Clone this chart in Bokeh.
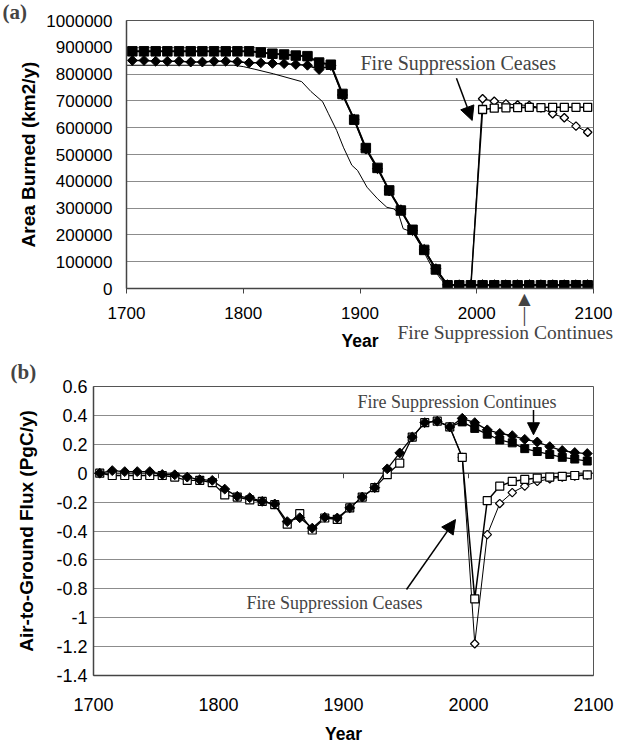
import math
from bokeh.plotting import figure
from bokeh.models import Range1d, FixedTicker, Label, Arrow, NormalHead
from bokeh.embed import file_html
from bokeh.resources import INLINE

# ---------------- data ----------------
years = [1705, 1715, 1725, 1735, 1745, 1755, 1765, 1775, 1785, 1795,
         1805, 1815, 1825, 1835, 1845, 1855, 1865, 1875, 1885, 1895,
         1905, 1915, 1925, 1935, 1945, 1955, 1965, 1975, 1985, 1995,
         2005, 2015, 2025, 2035, 2045, 2055, 2065, 2075, 2085, 2095]

x_ticks = [1700, 1800, 1900, 2000, 2100]

# panel (a): area burned (km2/y)
a_y_ticks = [0, 100000, 200000, 300000, 400000, 500000, 600000, 700000, 800000, 900000, 1000000]
a_y_labels = ["0", "100000", "200000", "300000", "400000", "500000", "600000", "700000", "800000", "900000", "1000000"]

a_sq_cont = [885000, 885000, 885000, 885000, 885000, 885000, 885000, 885000, 885000, 885000,
             885000, 881000, 876000, 873000, 869000, 867000, 843000, 835000, 726000, 630000,
             524000, 450000, 366000, 291000, 219000, 144000, 71000, 12000, 12000, 12000,
             12000, 12000, 12000, 12000, 12000, 12000, 12000, 12000, 12000, 12000]
a_dia_cont = [851000, 851000, 848000, 848000, 848000, 845000, 845000, 848000, 848000, 846000,
              842000, 842000, 840000, 839000, 836000, 833000, 817000, 832000, 722000, 632000,
              520000, 447000, 364000, 294000, 216000, 146000, 74000, 14000, 14000, 14000,
              14000, 14000, 14000, 14000, 14000, 14000, 14000, 14000, 14000, 14000]

a_ceases_years = [1995, 2005, 2015, 2025, 2035, 2045, 2055, 2065, 2075, 2085, 2095]
a_sq_ceases = [12000, 668000, 673000, 674000, 675000, 676000, 675000, 676000, 676000, 676000, 676000]
a_dia_ceases = [12000, 708000, 699000, 689000, 685000, 683000, 674000, 652000, 637000, 606000, 583000]

a_obs_years = [1700, 1792, 1800, 1810, 1826, 1850, 1858, 1868, 1873, 1880, 1886, 1893, 1898,
               1906, 1915, 1923, 1929, 1933, 1937, 1945, 1952, 1960, 1969, 1974, 2000]
a_obs = [833000, 833000, 828000, 818000, 801000, 772000, 735000, 697000, 652000, 590000, 525000,
         460000, 440000, 378000, 335000, 303000, 297000, 279000, 223000, 210000, 160000, 92000,
         36000, 12000, 12000]

# panel (b): air-to-ground flux (PgC/y)
b_y_ticks = [0.6, 0.4, 0.2, 0.0, -0.2, -0.4, -0.6, -0.8, -1.0, -1.2, -1.4]
b_y_labels = ["0.6", "0.4", "0.2", "0", "-0.2", "-0.4", "-0.6", "-0.8", "-1", "-1.2", "-1.4"]

b_hist_years = years[:29]
b_dia_hist = [0.0, 0.018, 0.011, 0.011, 0.011, -0.009, -0.011, -0.027, -0.045, -0.05,
              -0.11, -0.16, -0.17, -0.195, -0.213, -0.335, -0.308, -0.38, -0.305, -0.31,
              -0.24, -0.165, -0.10, 0.03, 0.14, 0.25, 0.35, 0.36, 0.32]
b_sq_hist = [0.0, -0.016, -0.016, -0.016, -0.016, -0.016, -0.027, -0.049, -0.049, -0.065,
             -0.15, -0.165, -0.185, -0.195, -0.218, -0.353, -0.28, -0.393, -0.31, -0.32,
             -0.24, -0.165, -0.10, -0.01, 0.07, 0.25, 0.35, 0.36, 0.32]

b_fut_years = years[28:]
b_dia_cont = [0.32, 0.38, 0.35, 0.30, 0.275, 0.26, 0.234, 0.216, 0.184, 0.157, 0.143, 0.136]
b_sq_cont = [0.32, 0.355, 0.31, 0.27, 0.23, 0.21, 0.17, 0.15, 0.13, 0.11, 0.098, 0.084]
b_sq_ceases = [0.32, 0.11, -0.87, -0.19, -0.09, -0.057, -0.043, -0.034, -0.027, -0.022, -0.016, -0.011]
b_dia_ceases = [0.32, 0.11, -1.18, -0.425, -0.21, -0.134, -0.089, -0.057, -0.039, -0.027, -0.02, -0.013]

# ---------------- style ----------------
SANS = "Liberation Sans"
SERIF = "Liberation Serif"
GRID = "#8c8c8c"
AXIS = "#444444"
DIAM = math.pi / 4


def style(p, label_size, y_title_standoff, y_label_standoff, x_label_standoff, x_tick_out, x_title_standoff):
    p.xgrid.grid_line_color = None
    p.ygrid.grid_line_color = GRID
    p.ygrid.grid_line_width = 1
    p.outline_line_color = "#555555"
    p.outline_line_width = 1
    p.background_fill_color = "white"
    p.border_fill_color = "white"
    for ax in (p.xaxis, p.yaxis):
        ax.axis_line_color = AXIS
        ax.axis_line_width = 1.5
        ax.major_label_text_font = SANS
        ax.major_label_text_font_size = label_size
        ax.major_label_text_color = "black"
        ax.axis_label_text_font = SANS
        ax.axis_label_text_font_style = "bold"
        ax.axis_label_text_color = "black"
        ax.minor_tick_line_color = None
        ax.major_tick_in = 0
    p.xaxis.axis_label_text_font_size = "17.5px"
    p.yaxis.axis_label_text_font_size = "19px"
    p.yaxis.major_tick_out = 0
    p.yaxis.major_label_standoff = y_label_standoff
    p.yaxis.axis_label_standoff = y_title_standoff
    p.xaxis.major_tick_out = x_tick_out
    p.xaxis.major_tick_line_color = AXIS
    p.xaxis.major_label_standoff = x_label_standoff
    p.xaxis.axis_label_standoff = x_title_standoff


HEAD = dict(fill_color="black", line_color="black")

# ---------------- panel (a) ----------------
# a tall top border holds the out-of-frame annotations; the canvas is pulled up by the same amount
A_TOP = 130
pa = figure(output_backend="svg", toolbar_location=None, width=617, height=A_TOP + 268 + 68,
            min_border_left=126, min_border_right=24, min_border_top=A_TOP, min_border_bottom=68,
            x_range=Range1d(1700, 2100), y_range=Range1d(0, 1000000),
            styles={"margin-top": "-%dpx" % (A_TOP - 20)})
pa.xaxis.ticker = FixedTicker(ticks=x_ticks)
pa.yaxis.ticker = FixedTicker(ticks=a_y_ticks)
pa.yaxis.major_label_overrides = {t: l for t, l in zip(a_y_ticks, a_y_labels)}
pa.xaxis.axis_label = "Year"
pa.yaxis.axis_label = "Area Burned (km2/y)"
style(pa, "17px", 4, 14, 13, 5, 9)

pa.line(a_obs_years, a_obs, line_color="black", line_width=1)
pa.line(years, a_sq_cont, line_color="black", line_width=2)
pa.line(years, a_dia_cont, line_color="black", line_width=1.5)
pa.line(a_ceases_years, a_sq_ceases, line_color="black", line_width=1.5)
pa.line(a_ceases_years, a_dia_ceases, line_color="black", line_width=1)
pa.scatter(years, a_sq_cont, marker="square", size=9.5, fill_color="black", line_color="black")
pa.scatter(years, a_dia_cont, marker="square", angle=DIAM, size=7, fill_color="black", line_color="black")
pa.scatter(a_ceases_years[1:], a_dia_ceases[1:], marker="square", angle=DIAM, size=6,
           fill_color="white", line_color="black", line_width=1.3)
pa.scatter(a_ceases_years[1:], a_sq_ceases[1:], marker="square", size=8,
           fill_color="white", line_color="black", line_width=1.3)

pa.add_layout(Label(x=1700, y=1000000, x_offset=-124, y_offset=21, text="(a)", text_font=SERIF,
                    text_font_style="bold", text_font_size="21px", text_baseline="top",
                    text_align="left"), "above")
pa.add_layout(Label(x=1932.1, y=0, y_offset=-44, text="Fire Suppression Continues", text_font=SERIF,
                    text_font_size="19.5px", text_baseline="middle", text_align="left"), "above")
# upward arrow below the axis, drawn as text (head + stem)
pa.add_layout(Label(x=2040.9, y=0, y_offset=-10, text="\u25b2", text_font="DejaVu Sans",
                    text_font_size="16px", text_baseline="middle", text_align="center"), "above")
pa.add_layout(Label(x=2040.9, y=0, y_offset=-25, text="|", text_font=SERIF,
                    text_font_size="22px", text_baseline="middle", text_align="center"), "above")

pa.add_layout(Label(x=1900.4, y=843000, text="Fire Suppression Ceases", text_font=SERIF,
                    text_font_size="20px", text_baseline="middle", text_align="left"))
pa.add_layout(Arrow(x_start=1982.6, y_start=784700, x_end=1996.1, y_end=627000,
                    line_color="black", line_width=1.5, end=NormalHead(size=14, **HEAD)))

# ---------------- panel (b) ----------------
pb = figure(output_backend="svg", toolbar_location=None, width=617, height=390,
            min_border_left=93, min_border_right=24, min_border_top=30, min_border_bottom=67,
            x_range=Range1d(1700, 2100), y_range=Range1d(-1.4, 0.6))
pb.xaxis.ticker = FixedTicker(ticks=x_ticks)
pb.yaxis.ticker = FixedTicker(ticks=b_y_ticks)
pb.yaxis.major_label_overrides = {t: l for t, l in zip(b_y_ticks, b_y_labels)}
pb.xaxis.axis_label = "Year"
pb.yaxis.axis_label = "Air-to-Ground Flux (PgC/y)"
style(pb, "18px", 16, 6, 22, 0, 10)

# zero line with small ticks (category axis crossing at 0)
pb.line([1700, 2100], [0, 0], line_color=AXIS, line_width=1.5)
pb.segment(x0=x_ticks, y0=[0] * len(x_ticks), x1=x_ticks, y1=[-0.035] * len(x_ticks),
           line_color=AXIS, line_width=1)

pb.line(b_hist_years + b_fut_years[1:], b_sq_hist + b_sq_cont[1:], line_color="black", line_width=1.3)
pb.line(b_hist_years + b_fut_years[1:], b_dia_hist + b_dia_cont[1:], line_color="black", line_width=1.3)
pb.line(b_fut_years, b_sq_ceases, line_color="black", line_width=1.5)
pb.line(b_fut_years, b_dia_ceases, line_color="black", line_width=1)

pb.scatter(b_fut_years[1:], b_sq_cont[1:], marker="square", size=8, fill_color="black", line_color="black")
pb.scatter(b_fut_years[1:], b_dia_cont[1:], marker="square", angle=DIAM, size=7, fill_color="black", line_color="black")
pb.scatter(b_hist_years, b_sq_hist, marker="square", size=8, fill_color="white", line_color="black", line_width=1.2)
pb.scatter(b_hist_years, b_dia_hist, marker="square", angle=DIAM, size=7, fill_color="black", line_color="black")
pb.scatter(b_fut_years[1:], b_dia_ceases[1:], marker="square", angle=DIAM, size=6,
           fill_color="white", line_color="black", line_width=1.2)
pb.scatter(b_fut_years[1:], b_sq_ceases[1:], marker="square", size=8,
           fill_color="white", line_color="black", line_width=1.2)

pb.add_layout(Label(x=1700, y=0.6, x_offset=-83, y_offset=27, text="(b)", text_font=SERIF,
                    text_font_style="bold", text_font_size="21px", text_baseline="top",
                    text_align="left"), "above")
pb.add_layout(Label(x=1911.2, y=0.491, text="Fire Suppression Continues", text_font=SERIF,
                    text_font_size="18px", text_baseline="middle", text_align="left"))
pb.add_layout(Label(x=1822.4, y=-0.90, text="Fire Suppression Ceases", text_font=SERIF,
                    text_font_size="18px", text_baseline="middle", text_align="left"))
pb.add_layout(Arrow(x_start=2052, y_start=0.437, x_end=2052, y_end=0.266,
                    line_color="black", line_width=1.5, end=NormalHead(size=12, **HEAD)))
pb.add_layout(Arrow(x_start=1950.4, y_start=-0.805, x_end=1989.6, y_end=-0.321,
                    line_color="black", line_width=1.5, end=NormalHead(size=14, **HEAD)))

open("out.html", "w").write(file_html((pa, pb), INLINE))
